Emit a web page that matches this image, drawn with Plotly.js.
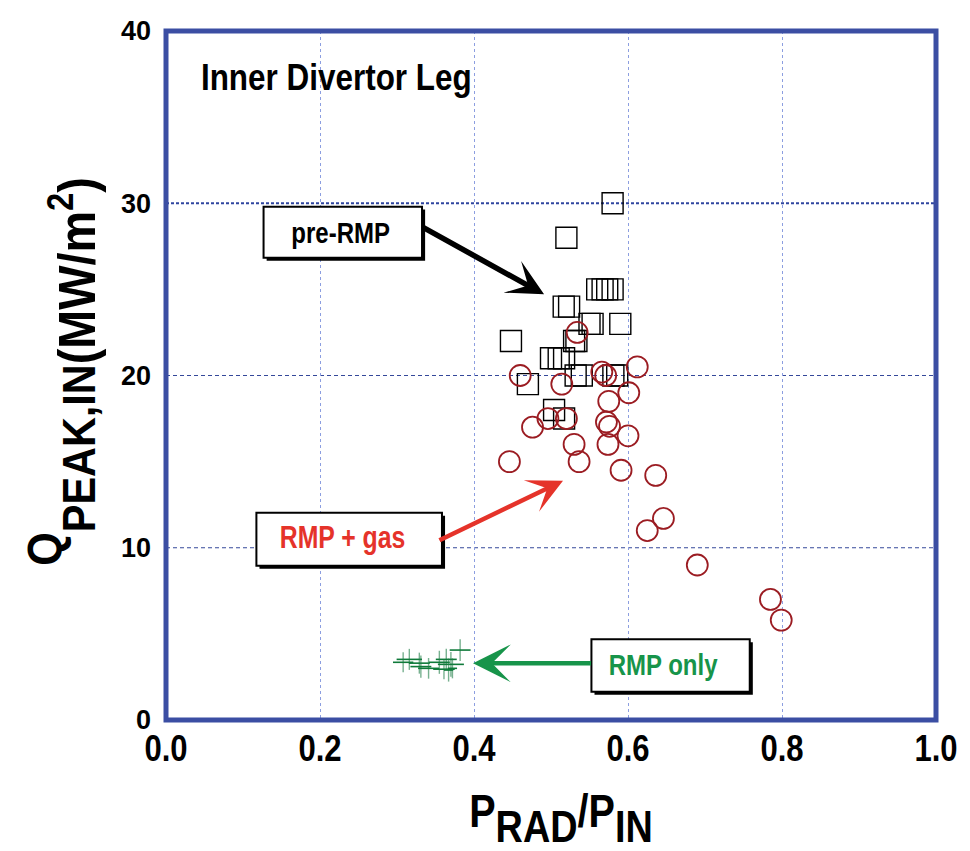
<!DOCTYPE html>
<html>
<head>
<meta charset="utf-8">
<script src="https://cdn.plot.ly/plotly-3.0.1.min.js"></script>
<style>
  html, body { margin: 0; padding: 0; background: #ffffff; }
  #chart { width: 970px; height: 851px; }
</style>
</head>
<body>
<div id="chart"></div>
<script>
// Peak heat flux on the inner divertor leg versus radiated power fraction

// pre-RMP discharges (open squares)
const preRmpX = [0.580, 0.520, 0.560, 0.567, 0.573, 0.580, 0.5165, 0.5235, 0.550, 0.554, 0.590,
                 0.448, 0.530, 0.533, 0.500, 0.510, 0.517, 0.470, 0.532, 0.540, 0.581, 0.586,
                 0.504, 0.517];
const preRmpY = [30.0, 28.0, 25.0, 25.0, 25.0, 25.0, 24.0, 24.0, 23.0, 23.0, 23.0,
                 22.0, 22.0, 22.0, 21.0, 21.0, 21.0, 19.5, 20.0, 20.0, 20.0, 20.0,
                 18.0, 17.5];

// RMP + gas puffing (open circles)
const rmpGasX = [0.534, 0.460, 0.514, 0.566, 0.571, 0.612, 0.601, 0.575, 0.496, 0.520,
                 0.476, 0.572, 0.576, 0.530, 0.574, 0.600, 0.446, 0.5365, 0.591, 0.636,
                 0.646, 0.625, 0.690, 0.785, 0.799];
const rmpGasY = [22.5, 20.0, 19.5, 20.2, 20.0, 20.5, 19.0, 18.5, 17.5, 17.5,
                 17.0, 17.3, 17.05, 16.0, 16.0, 16.5, 15.0, 15.0, 14.5, 14.2,
                 11.7, 11.0, 9.0, 7.0, 5.8];

// RMP only (crosses with horizontal / vertical spread)
const rmpOnlyX  = [0.382, 0.316, 0.308, 0.329, 0.331, 0.341, 0.364, 0.355, 0.370, 0.361, 0.367, 0.372];
const rmpOnlyY  = [4.06, 3.52, 3.35, 3.30, 3.10, 3.00, 3.52, 3.35, 3.23, 2.95, 2.90, 3.00];
const rmpOnlyDx = [0.0136, 0.0165, 0.0132, 0.0136, 0.0136, 0.0136, 0.0136, 0.0136, 0.0169, 0.0140, 0.0060, 0.0060];
const rmpOnlyDy = [0.63, 0.61, 0.58, 0.61, 0.64, 0.60, 0.61, 0.67, 0.72, 0.58, 0.67, 0.58];

// axis ticks
const xTicks = [0.0, 0.2, 0.4, 0.6, 0.8, 1.0];
const xTickText = ['0.0', '0.2', '0.4', '0.6', '0.8', '1.0'];
const yTicks = [0, 10, 20, 30, 40];
const yTickText = ['0', '10', '20', '30', '40'];
const yGridMajor = [10, 20];
const yGridDotted = [30];

const SANS = '"Liberation Sans", Arial, Helvetica, sans-serif';
const FRAME = '#3b4ea3';
const RED = '#e5332a';
const GREEN = '#17944a';

const traces = [
  {
    x: preRmpX, y: preRmpY, type: 'scatter', mode: 'markers', name: 'pre-RMP',
    marker: { symbol: 'square-open', size: 21, color: '#000000', line: { width: 1.4, color: '#000000' } },
    hoverinfo: 'x+y'
  },
  {
    x: rmpGasX, y: rmpGasY, type: 'scatter', mode: 'markers', name: 'RMP + gas',
    marker: { symbol: 'circle-open', size: 21, color: '#9b1c22', line: { width: 1.8, color: '#9b1c22' } },
    hoverinfo: 'x+y'
  },
  {
    x: rmpOnlyX, y: rmpOnlyY, type: 'scatter', mode: 'markers', name: 'RMP only',
    marker: { size: 2, color: 'rgba(0,0,0,0)' },
    error_x: { type: 'data', array: rmpOnlyDx, width: 0, thickness: 1.6, color: '#0f7a3a' },
    error_y: { type: 'data', array: rmpOnlyDy, width: 0, thickness: 1.4, color: 'rgba(30,125,70,0.6)' },
    hoverinfo: 'x+y'
  }
];

// horizontal grid lines built from the tick values
const shapes = [];
yGridMajor.forEach(v => shapes.push({
  type: 'line', xref: 'paper', yref: 'y', x0: 0, x1: 1, y0: v, y1: v, layer: 'below',
  line: { color: '#34489a', width: 1, dash: '4px,3px' }
}));
yGridDotted.forEach(v => shapes.push({
  type: 'line', xref: 'paper', yref: 'y', x0: 0, x1: 1, y0: v, y1: v, layer: 'below',
  line: { color: '#2f45a0', width: 2, dash: '3px,2px' }
}));

// label boxes with a drop shadow
function box(x0, x1, y0, y1) {
  const dx = 0.004, dy = 0.17;
  shapes.push({ type: 'rect', xref: 'x', yref: 'y', x0: x0 + dx, x1: x1 + dx, y0: y0 - dy, y1: y1 - dy,
                layer: 'above', fillcolor: '#000000', line: { width: 0 } });
  shapes.push({ type: 'rect', xref: 'x', yref: 'y', x0: x0, x1: x1, y0: y0, y1: y1,
                layer: 'above', fillcolor: '#ffffff', line: { color: '#000000', width: 2 } });
}
box(0.1267, 0.3325, 26.83, 29.80);
box(0.1174, 0.3584, 8.955, 12.03);
box(0.5525, 0.7581, 1.643, 4.684);

// plot frame
shapes.push({ type: 'rect', xref: 'paper', yref: 'paper', x0: 0, x1: 1, y0: 0, y1: 1,
              layer: 'above', line: { color: FRAME, width: 5 } });

const annotations = [
  { text: 'Inner Divertor Leg', x: 0.2217, y: 37.3, xref: 'x', yref: 'y', showarrow: false,
    font: { family: SANS, size: 37, weight: 'bold', color: '#000000' } },
  // arrows
  { text: '', x: 0.491, y: 24.71, ax: 0.3325, ay: 28.63, axref: 'x', ayref: 'y', xref: 'x', yref: 'y',
    showarrow: true, arrowhead: 3, arrowwidth: 5.5, arrowsize: 1.1, arrowcolor: '#000000', standoff: 0, startstandoff: 0 },
  { text: '', x: 0.5156, y: 13.89, ax: 0.3532, ay: 10.39, axref: 'x', ayref: 'y', xref: 'x', yref: 'y',
    showarrow: true, arrowhead: 3, arrowwidth: 4.5, arrowsize: 1.3, arrowcolor: RED, standoff: 0, startstandoff: 0 },
  { text: '', x: 0.3987, y: 3.29, ax: 0.554, ay: 3.29, axref: 'x', ayref: 'y', xref: 'x', yref: 'y',
    showarrow: true, arrowhead: 3, arrowwidth: 4.5, arrowsize: 1.4, arrowcolor: GREEN, standoff: 0, startstandoff: 0 },
  // box labels
  { text: 'pre-RMP', x: 0.2269, y: 28.32, xref: 'x', yref: 'y', showarrow: false,
    font: { family: SANS, size: 30, weight: 'bold', color: '#000000' } },
  { text: 'RMP + gas', x: 0.2288, y: 10.62, xref: 'x', yref: 'y', showarrow: false,
    font: { family: SANS, size: 31, weight: 'bold', color: RED } },
  { text: 'RMP only', x: 0.645, y: 3.25, xref: 'x', yref: 'y', showarrow: false,
    font: { family: SANS, size: 30, weight: 'bold', color: GREEN } }
];

const layout = {
  width: 970, height: 851,
  margin: { l: 166, r: 34, t: 31, b: 131, pad: 0 },
  paper_bgcolor: '#ffffff', plot_bgcolor: '#ffffff',
  showlegend: false,
  xaxis: {
    range: [0, 1], tickvals: xTicks, ticktext: xTickText, ticks: '', showline: false, zeroline: false,
    showgrid: true, gridcolor: '#8c9ee0', gridwidth: 1, griddash: '3px,3px',
    tickfont: { family: SANS, size: 37, weight: 'bold', color: '#000000' },
    ticklabelstandoff: 3,
    title: { text: '<span style="font-size:46px">P</span><sub><span style="font-size:44px">RAD</span></sub>' +
                   '<span style="font-size:46px">/P</span><sub><span style="font-size:44px">IN</span></sub>',
             font: { family: SANS, size: 71, weight: 'bold', color: '#000000' }, standoff: 12 }
  },
  yaxis: {
    range: [0, 40], tickvals: yTicks, ticktext: yTickText, ticks: '', showline: false, zeroline: false,
    showgrid: false,
    tickfont: { family: SANS, size: 27, weight: 'bold', color: '#000000' },
    ticklabelstandoff: 14,
    title: { text: '<span style="font-size:48px">Q</span><sub><span style="font-size:46px">PEAK,IN</span>' +
                   '<span style="font-size:52px">(MW/m<sup>2</sup>)</span></sub>',
             font: { family: SANS, size: 160, weight: 'bold', color: '#000000' }, standoff: 4 }
  },
  shapes: shapes,
  annotations: annotations
};

// narrow the bold lettering along its own baseline (condensed face), optionally nudged along it
function condense(selector, k, shift) {
  document.querySelectorAll(selector).forEach(t => {
    const bb = t.getBBox();
    if (!bb.width) return;
    const kk = typeof k === 'function' ? k(t) : k;
    const cx = bb.x + bb.width / 2;
    const prev = t.getAttribute('transform') || '';
    t.setAttribute('transform', prev + ' translate(' + (cx + (shift || 0)) + ',0) scale(' + kk + ',1) translate(' + (-cx) + ',0)');
  });
}

Plotly.newPlot('chart', traces, layout, { displayModeBar: false, staticPlot: true }).then(() => {
  condense('.xtick text', 0.84);
  condense('.g-xtitle text', 0.86, 10);
  condense('.g-ytitle text', 0.9, 4);
  condense('.annotation-text', t => (t.textContent.indexOf('Inner') === 0 ? 0.85 : 0.8));
});
</script>
</body>
</html>
